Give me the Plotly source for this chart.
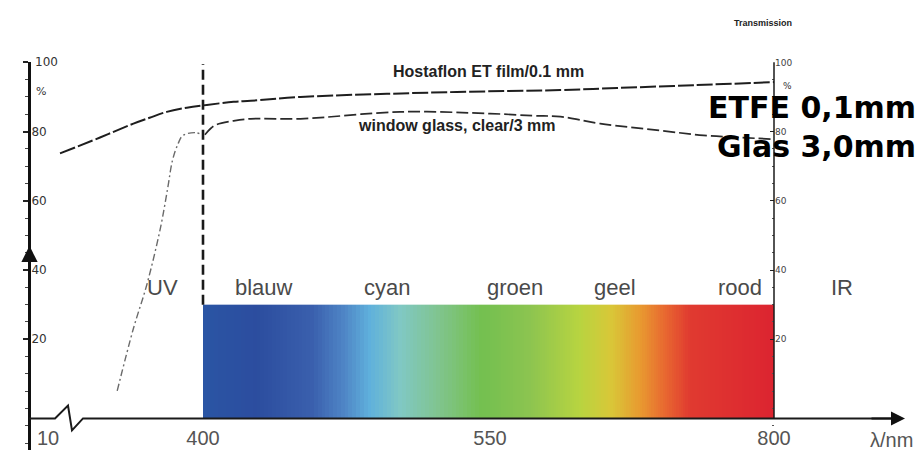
import numpy as np
import plotly.graph_objects as go

# ---- horizontal scale: wavelength (nm) -> axis position (broken / non-linear scale of the original)
NM_ANCHOR = [10, 250, 400, 550, 800, 900]
POS_ANCHOR = [48, 60, 203, 490, 774, 888]


def pos(nm):
    return np.interp(nm, NM_ANCHOR, POS_ANCHOR)


X_TICK_NM = [10, 400, 550, 800]
X_TICK_TEXT = ["10", "400", "550", "800"]
Y_TICKS = [20, 40, 60, 80, 100]
Y_TICK_TEXT = ["20", "40", "60", "80", "100"]

# ---- transmission curves (%)
ETFE_NM = [250, 292, 327, 344, 362, 383, 402, 416, 425, 451, 529, 612, 662, 729, 800]
ETFE_T = [73.7, 78.3, 82.3, 84.0, 85.7, 86.9, 87.7, 88.6, 88.9, 90.0, 91.4, 92.0, 92.6, 93.4, 94.3]

GLASS_UV_NM = [310, 327, 341, 355, 363, 368, 374, 379, 392, 399]
GLASS_UV_T = [5.1, 23.1, 35.7, 51.7, 63.7, 71.7, 76.6, 78.9, 79.7, 79.1]
GLASS_VIS_NM = [401, 404, 407, 416, 425, 451, 503, 550, 588, 612, 647, 700, 738, 770, 800]
GLASS_VIS_T = [79.1, 80.9, 82.0, 83.1, 83.7, 83.7, 85.7, 85.2, 84.6, 84.3, 82.3, 80.3, 78.9, 78.3, 77.8]

VISIBLE_EDGE_NM = [400, 400]
VISIBLE_EDGE_T = [30, 99.5]

# ---- visible spectrum band
SPEC_TOP = 30
AXIS_BASE = -2.86
SPEC_NM = [400, 428, 457, 474, 487, 503, 524, 545, 585, 629, 656, 682, 704, 726, 800]
SPEC_COL = ["#2a55a4", "#2c4d9f", "#3a5fad", "#4f86c6", "#5fb0dc", "#80c8c4", "#80c48c",
            "#74c050", "#8cc450", "#b8d440", "#d8c838", "#e89a30", "#e86830", "#e03a30", "#dc2430"]

BAND_NAMES = ["UV", "blauw", "cyan", "groen", "geel", "rood", "IR"]
BAND_NM = [358, 432, 496, 572, 660, 770, 860]
BAND_T = 35

W, H = 922, 455
ML = 29
PX_PER_PCT = 3.5
Y0_PX = 408  # pixel row of 0 %
y_bottom = (Y0_PX - 450) / PX_PER_PCT
dom_lo = (H - 450) / H
dom_hi = (H - (Y0_PX - 100 * PX_PER_PCT)) / H


def px_x(x):
    return (x - ML) / (W - ML)


def px_y(y):
    return (H - y) / H


fig = go.Figure()

# spectrum band as heatmap
edges_nm = np.linspace(400, 800, 201)
mid_nm = (edges_nm[:-1] + edges_nm[1:]) / 2
cscale = [[(n - 400) / 400, c] for n, c in zip(SPEC_NM, SPEC_COL)]
fig.add_trace(go.Heatmap(x=pos(edges_nm), y=[AXIS_BASE, SPEC_TOP], z=[mid_nm],
                         colorscale=cscale, zmin=400, zmax=800, showscale=False,
                         hoverinfo="skip"))

fig.add_trace(go.Scatter(x=pos(VISIBLE_EDGE_NM), y=VISIBLE_EDGE_T, mode="lines",
                         line=dict(color="#1a1a1a", width=2.6, dash="10px,5px"),
                         hoverinfo="skip", showlegend=False))
fig.add_trace(go.Scatter(x=pos(ETFE_NM), y=ETFE_T, mode="lines", line_shape="spline",
                         line=dict(color="#1e1e1e", width=2, dash="16px,3px"),
                         name="ETFE", showlegend=False))
fig.add_trace(go.Scatter(x=pos(GLASS_UV_NM), y=GLASS_UV_T, mode="lines", line_shape="spline",
                         line=dict(color="#6a6a6a", width=1.4, dash="7px,3px,2px,3px"),
                         showlegend=False))
fig.add_trace(go.Scatter(x=pos(GLASS_VIS_NM), y=GLASS_VIS_T, mode="lines", line_shape="spline",
                         line=dict(color="#2a2a2a", width=1.7, dash="12px,4px"),
                         name="Glas", showlegend=False))
fig.add_trace(go.Scatter(x=[pos(800)], y=[0], yaxis="y2", mode="markers",
                         marker=dict(opacity=0), hoverinfo="skip", showlegend=False))

annos = []
for name, nm in zip(BAND_NAMES, BAND_NM):
    annos.append(dict(x=pos(nm), y=BAND_T, xref="x", yref="y", text=name, showarrow=False,
                      xanchor="center", yanchor="middle",
                      font=dict(family="Liberation Sans, Arial", size=22, color="#4a4a4a")))


def paper_text(x, y, text, size, family="Liberation Sans, Arial", color="#333", xanchor="center"):
    return dict(x=px_x(x), y=px_y(y), xref="paper", yref="paper", text=text, showarrow=False,
                xanchor=xanchor, yanchor="middle", font=dict(family=family, size=size, color=color))


annos += [
    dict(x=pos(549), y=97.4, xref="x", yref="y", text="<b>Hostaflon ET film/0.1 mm</b>", showarrow=False,
         xanchor="center", yanchor="middle",
         font=dict(family="Liberation Sans, Arial", size=16, color="#222")),
    dict(x=pos(533), y=81.7, xref="x", yref="y", text="<b>window glass, clear/3 mm</b>", showarrow=False,
         xanchor="center", yanchor="middle",
         font=dict(family="Liberation Sans, Arial", size=16, color="#222")),
    paper_text(794, 18, "<b>Transmission</b>", 9, color="#222", xanchor="right"),
    paper_text(918, 104, "<b>ETFE 0,1mm</b>", 30, family="DejaVu Sans", color="#000", xanchor="right"),
    paper_text(918, 143, "<b>Glas 3,0mm</b>", 30, family="DejaVu Sans", color="#000", xanchor="right"),
    # top label of the left axis (inside labels at the domain edge are hidden by plotly)
    dict(x=px_x(33), y=100, xref="paper", yref="y", text=Y_TICK_TEXT[-1], showarrow=False,
         xanchor="left", yanchor="middle", font=dict(family="DejaVu Sans", size=12, color="#333")),
    paper_text(34, 87, "%", 11, family="DejaVu Sans", xanchor="left"),
    paper_text(781, 82, "%", 9, family="DejaVu Sans", xanchor="left"),
    paper_text(891, 440, "λ/nm", 20, color="#555"),
    # x-axis arrow head
    dict(x=905, y=AXIS_BASE, ax=870, ay=AXIS_BASE, xref="x", yref="y", axref="x", ayref="y",
         text="", showarrow=True, arrowhead=2, arrowsize=1.4, arrowwidth=2, arrowcolor="#111"),
    # arrow on left axis
    dict(x=ML + 0.5, y=47, ax=ML + 0.5, ay=35, xref="x", yref="y", axref="x", ayref="y",
         text="", showarrow=True, arrowhead=2, arrowsize=1.3, arrowwidth=2.5, arrowcolor="#111"),
]

shapes = [
    # x-axis line with break
    dict(type="path", xref="x", yref="y",
         path=f"M {ML},{AXIS_BASE} L 55,{AXIS_BASE} L 68,0.86 L 72,-6.3 L 83,{AXIS_BASE} L 895,{AXIS_BASE}",
         line=dict(color="#1a1a1a", width=2)),
    # right axis line
    dict(type="line", xref="x", yref="y", x0=pos(800), x1=pos(800), y0=AXIS_BASE, y1=100.8,
         line=dict(color="#1a1a1a", width=1.5)),
]

xaxis_pos = (H - 424) / H
fig.update_layout(
    width=W, height=H, margin=dict(l=ML, r=0, t=0, b=0),
    paper_bgcolor="white", plot_bgcolor="white",
    xaxis=dict(range=[ML, W], showgrid=False, zeroline=False, showline=False,
               anchor="free", position=xaxis_pos,
               tickvals=pos(X_TICK_NM), ticktext=X_TICK_TEXT, ticks="",
               tickfont=dict(family="Liberation Sans, Arial", size=20, color="#555")),
    yaxis=dict(range=[y_bottom, 100], domain=[dom_lo, dom_hi], showgrid=False, zeroline=False,
               showline=True, linecolor="#111", linewidth=2.6, anchor="free", position=0,
               tickvals=Y_TICKS, ticktext=Y_TICK_TEXT[:-1] + [""], ticks="outside", ticklen=5,
               tickwidth=1.5, tickcolor="#222", ticklabelposition="inside",
               tickfont=dict(family="DejaVu Sans", size=12, color="#333"),
               minor=dict(dtick=5, ticks="outside", ticklen=3, tickcolor="#444", tickwidth=1)),
    yaxis2=dict(range=[y_bottom, 100], overlaying="y", anchor="free",
                position=(pos(800) - ML) / (W - ML), side="right", showgrid=False, zeroline=False,
                showline=False, tickvals=Y_TICKS, ticktext=Y_TICK_TEXT, ticks="inside", ticklen=4,
                tickcolor="#222", tickfont=dict(family="DejaVu Sans", size=9, color="#444"),
                minor=dict(dtick=5, ticks="inside", ticklen=2, tickcolor="#555")),
    annotations=annos, shapes=shapes, showlegend=False,
)

fig.write_html("out.html", config={"displayModeBar": False},
               post_script="document.body.style.margin='0';document.body.style.overflow='hidden';")
